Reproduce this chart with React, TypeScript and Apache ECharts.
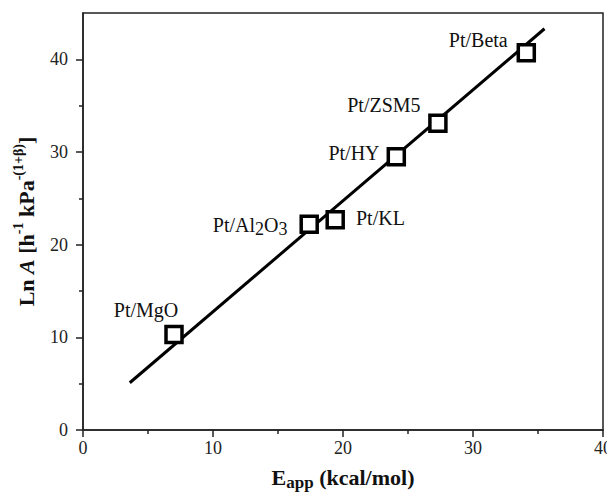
import React, { useEffect, useRef } from "react";
import * as echarts from "echarts";

// Catalysts, apparent activation energy (kcal/mol) and Ln A
const catalysts = ["Pt/MgO", "Pt/Al2O3", "Pt/KL", "Pt/HY", "Pt/ZSM5", "Pt/Beta"];
const eApp = [7.0, 17.4, 19.4, 24.1, 27.3, 34.1];
const lnA = [10.3, 22.2, 22.7, 29.5, 33.1, 40.7];

// Linear fit (compensation line) end points
const fitE = [3.6, 35.5];
const fitLnA = [5.1, 43.3];

// Tick values
const xTicks = [0, 10, 20, 30, 40];
const yMajorTicks = [0, 10, 20, 30, 40];
const yMinorTicks = [5, 15, 25, 35];

const SERIF = "'Liberation Serif', 'Times New Roman', serif";

const labelRich = {
  n: { fontFamily: SERIF, fontSize: 20, color: "#111", lineHeight: 26 },
  s: { fontFamily: SERIF, fontSize: 18, color: "#111", lineHeight: 13, verticalAlign: "bottom" },
};

const labelLayout: Record<string, any> = {
  "Pt/MgO": { position: "inside", offset: [-28, -25] },
  "Pt/Al2O3": { position: "left", distance: 12, offset: [0, 1] },
  "Pt/KL": { position: "right", distance: 11, offset: [0, -2] },
  "Pt/HY": { position: "left", distance: 7, offset: [0, -4] },
  "Pt/ZSM5": { position: "inside", offset: [-54, -18] },
  "Pt/Beta": { position: "inside", offset: [-48, -13] },
};

function richName(name: string): string {
  if (name === "Pt/Al2O3") return "{n|Pt/Al}{s|2}{n|O}{s|3}";
  return "{n|" + name + "}";
}

export default function App() {
  const ref = useRef<HTMLDivElement>(null);
  useEffect(() => {
    if (!ref.current) return;
    const chart = echarts.init(ref.current, null, { renderer: "svg" });
    const axisLine = { lineStyle: { color: "#222", width: 1.5 } };
    chart.setOption({
      animation: false,
      backgroundColor: "#fff",
      grid: {
        left: 83,
        right: 8,
        top: 13,
        bottom: 62,
        show: true,
        borderColor: "#222",
        borderWidth: 1.5,
        backgroundColor: "transparent",
      },
      xAxis: {
        type: "value",
        min: 0,
        max: 40,
        interval: 10,
        axisLine,
        axisTick: { show: true, inside: false, length: 7, lineStyle: { color: "#222", width: 1.5 } },
        minorTick: { show: true, splitNumber: 2, length: 4, lineStyle: { color: "#222", width: 1.5 } },
        splitLine: { show: false },
        minorSplitLine: { show: false },
        axisLabel: {
          customValues: xTicks,
          margin: 9,
          fontFamily: SERIF,
          fontSize: 18,
          color: "#222",
        },
        name: "{b|E}{sub|app}{b| (kcal/mol)}",
        nameLocation: "middle",
        nameGap: 33,
        nameTextStyle: {
          rich: {
            b: { fontFamily: SERIF, fontSize: 22, fontWeight: "bold", color: "#111", lineHeight: 28 },
            sub: {
              fontFamily: SERIF,
              fontSize: 17,
              fontWeight: "bold",
              color: "#111",
              lineHeight: 18,
              verticalAlign: "bottom",
            },
          },
        },
      },
      yAxis: [
        {
          type: "value",
          min: 0,
          max: 45,
          axisLine,
          axisTick: {
            show: true,
            inside: false,
            length: 7,
            customValues: yMajorTicks,
            lineStyle: { color: "#222", width: 1.5 },
          },
          splitLine: { show: false },
          axisLabel: {
            customValues: yMajorTicks,
            margin: 15,
            fontFamily: SERIF,
            fontSize: 18,
            color: "#222",
          },
          name: "{b|Ln }{bi|A}{b| [h}{sup|-1}{b| kPa}{sup|-(1+β)}{b|]}",
          nameLocation: "middle",
          nameRotate: 90,
          nameGap: 42,
          nameTextStyle: {
            rich: {
              b: { fontFamily: SERIF, fontSize: 22, fontWeight: "bold", color: "#111", lineHeight: 30 },
              bi: {
                fontFamily: SERIF,
                fontSize: 22,
                fontWeight: "bold",
                fontStyle: "italic",
                color: "#111",
                lineHeight: 30,
              },
              sup: {
                fontFamily: SERIF,
                fontSize: 14,
                fontWeight: "bold",
                color: "#111",
                lineHeight: 14,
                verticalAlign: "top",
              },
            },
          },
        },
        {
          type: "value",
          min: 0,
          max: 45,
          position: "left",
          axisLine: { show: false },
          axisTick: {
            show: true,
            inside: false,
            length: 4,
            customValues: yMinorTicks,
            lineStyle: { color: "#222", width: 1.5 },
          },
          axisLabel: { show: false },
          splitLine: { show: false },
        },
      ],
      series: [
        {
          type: "line",
          name: "fit",
          data: fitE.map((e, i) => [e, fitLnA[i]]),
          symbol: "none",
          lineStyle: { color: "#000", width: 3 },
          z: 2,
        },
        {
          type: "scatter",
          name: "catalysts",
          symbol: "rect",
          symbolSize: 16,
          itemStyle: { color: "#fff", borderColor: "#000", borderWidth: 3.5, opacity: 1 },
          z: 3,
          data: catalysts.map((c, i) => ({
            name: c,
            value: [eApp[i], lnA[i]],
            label: {
              show: true,
              formatter: richName(c),
              rich: labelRich,
              ...labelLayout[c],
            },
          })),
        },
      ],
    });
    return () => chart.dispose();
  }, []);
  return <div ref={ref} style={{ width: 615, height: 496, marginLeft: -8, marginTop: -8 }} />;
}
